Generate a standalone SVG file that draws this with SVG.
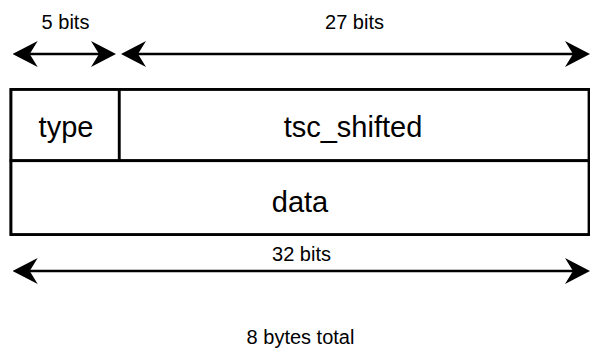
<svg xmlns="http://www.w3.org/2000/svg" width="590" height="349" viewBox="0 0 590 349">
  <style>
    .box { fill: #ffffff; stroke: #000000; stroke-width: 2.8; }
    .conn { stroke: #000000; stroke-width: 2.5; fill: none; }
    .lbl { font-family: "Liberation Sans", Arial, sans-serif; font-size: 20px; fill: #000000; text-anchor: middle; }
    .fld { font-family: "Liberation Sans", Arial, sans-serif; font-size: 29px; fill: #000000; text-anchor: middle; }
  </style>
  <defs>
    <marker id="head" viewBox="0 0 25 26" refX="8" refY="13" markerWidth="25" markerHeight="26" markerUnits="userSpaceOnUse" orient="auto-start-reverse">
      <path d="M0,0 L25,13 L0,26 L8,13 Z" fill="#000000"/>
    </marker>
  </defs>
  <rect width="590" height="349" fill="#ffffff"/>
  <g id="record">
    <rect class="box" x="11" y="89.5" width="578" height="145"/>
  </g>
  <g id="type">
    <rect class="box" x="11" y="89.5" width="108.3" height="71.2"/>
    <text class="fld" x="66" y="137">type</text>
  </g>
  <g id="tsc_shifted">
    <rect class="box" x="119.3" y="89.5" width="469.7" height="71.2"/>
    <text class="fld" x="353" y="137">tsc_shifted</text>
  </g>
  <g id="data">
    <rect class="box" x="11" y="160.7" width="578" height="73.8"/>
    <text class="fld" x="300" y="212">data</text>
  </g>
  <g id="connectors">
    <line class="conn" x1="29.7" y1="54" x2="99" y2="54" marker-start="url(#head)" marker-end="url(#head)"/>
    <line class="conn" x1="138" y1="54" x2="573" y2="54" marker-start="url(#head)" marker-end="url(#head)"/>
    <line class="conn" x1="29.7" y1="271" x2="573" y2="271" marker-start="url(#head)" marker-end="url(#head)"/>
  </g>
  <g id="labels">
    <text class="lbl" x="65.5" y="29">5 bits</text>
    <text class="lbl" x="354.5" y="29">27 bits</text>
    <text class="lbl" x="301.5" y="261">32 bits</text>
    <text class="lbl" x="300.5" y="344">8 bytes total</text>
  </g>
</svg>
